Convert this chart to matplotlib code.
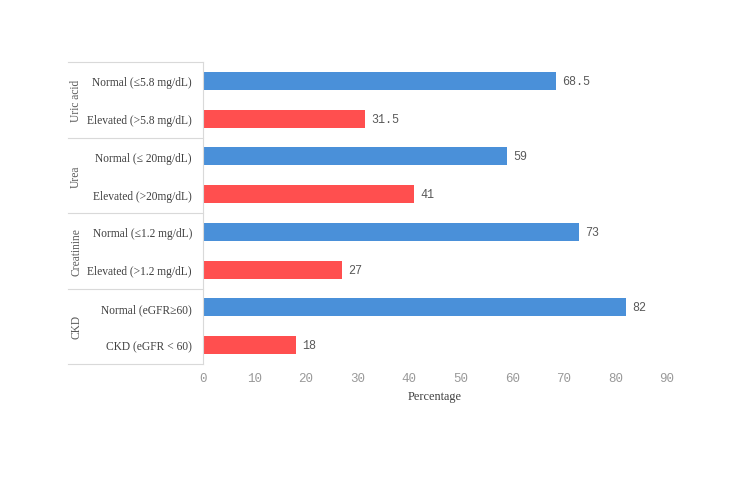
import matplotlib
matplotlib.use("Agg")
import matplotlib.pyplot as plt
from matplotlib.lines import Line2D

categories = ["Normal (\u22645.8 mg/dL)", "Elevated (>5.8 mg/dL)",
              "Normal (\u2264 20mg/dL)", "Elevated (>20mg/dL)",
              "Normal (\u22641.2 mg/dL)", "Elevated (>1.2 mg/dL)",
              "Normal (eGFR\u226560)", "CKD (eGFR < 60)"]
values = [68.5, 31.5, 59, 41, 73, 27, 82, 18]
value_labels = ["68.5", "31.5", "59", "41", "73", "27", "82", "18"]
groups = ["Uric acid", "Urea", "Creatinine", "CKD"]
xticks = [0, 10, 20, 30, 40, 50, 60, 70, 80, 90]

blue = "#4A90D9"
red = "#FF4F4F"
colors = [blue, red] * 4

W, H = 750, 485
fig = plt.figure(figsize=(7.5, 4.85), dpi=100)
left, right, top, bottom = 203, 667, 63, 365
ax = fig.add_axes([left / W, 1 - bottom / H, (right - left) / W, (bottom - top) / H])

y = list(range(len(categories)))
ax.barh(y, values, height=0.48, color=colors)
ax.set_ylim(len(categories) - 0.5, -0.5)
ax.set_xlim(0, 90)
ax.set_xticks(xticks)
ax.set_xticklabels([str(t) for t in xticks], family="Liberation Mono", fontsize=9, color="#999999")
ax.set_yticks(y)
ax.set_yticklabels(categories, family="Liberation Serif", fontsize=8.3, color="#404040")
ax.tick_params(axis="both", length=0)
ax.tick_params(axis="y", pad=8)
ax.tick_params(axis="x", pad=6)
for s in ["top", "right", "bottom"]:
    ax.spines[s].set_visible(False)
ax.spines["left"].set_color("#D9D9D9")
ax.spines["left"].set_linewidth(0.8)

for yi, v, lab in zip(y, values, value_labels):
    ax.text(v + 1.2, yi, lab, va="center", ha="left", family="Liberation Mono", fontsize=8.5, color="#595959")

ax.set_xlabel("Percentage", family="Liberation Serif", fontsize=8.8, color="#404040", labelpad=4)

# group separators and labels
x0 = 68
row_h = (bottom - top) / len(categories)
for i in range(len(groups) + 1):
    yy = top + i * 2 * row_h
    fig.add_artist(Line2D([x0 / W, left / W], [1 - yy / H, 1 - yy / H], color="#D9D9D9", lw=0.8))
for i, g in enumerate(groups):
    yc = top + (2 * i + 1) * row_h
    fig.text(76 / W, 1 - yc / H, g, rotation=90, va="center", ha="center",
             family="Liberation Serif", fontsize=8.3, color="#595959")

fig.savefig("out.png", dpi=100)
